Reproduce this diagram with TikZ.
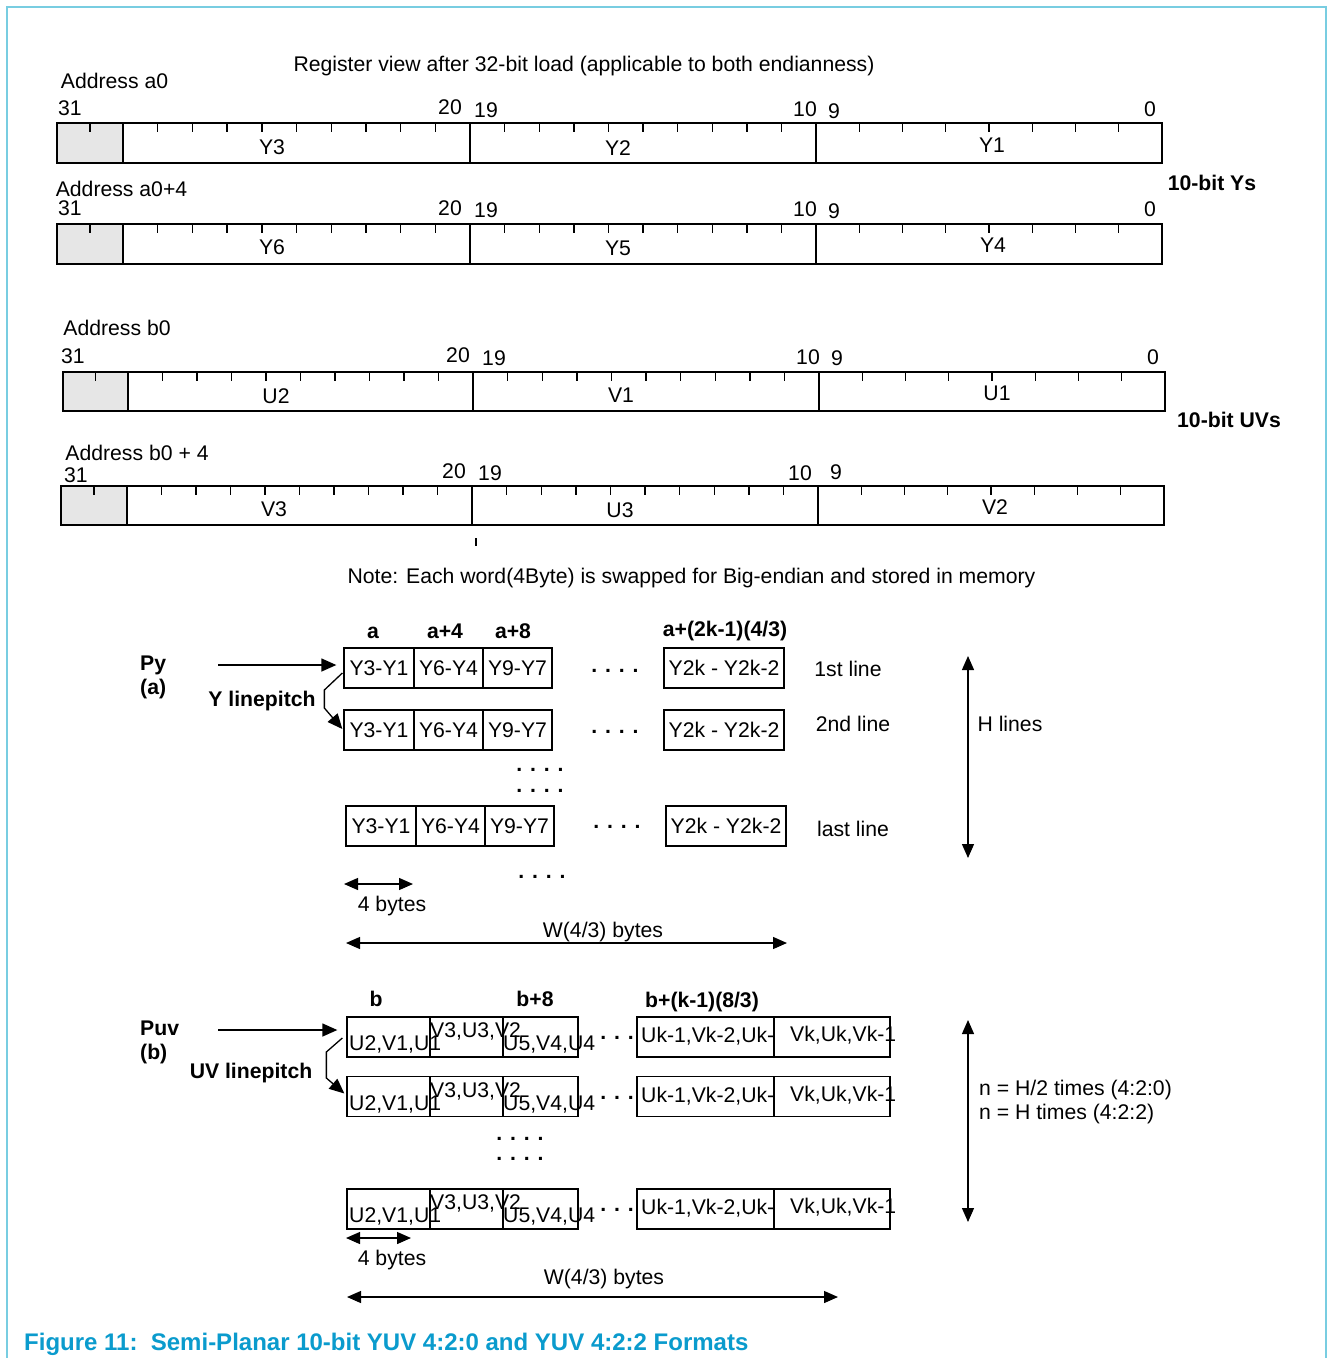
\documentclass[tikz,border=0pt]{standalone}
\usepackage{fontspec}
\setmainfont{Liberation Sans}
\usetikzlibrary{arrows.meta,calc}
\definecolor{framec}{RGB}{120,205,225}
\definecolor{capc}{RGB}{10,155,205}
\definecolor{grayc}{RGB}{230,230,230}
\tikzset{
 lbl/.style={inner sep=0pt, text height=15pt, text depth=0pt},
 bl/.style={lbl, font=\fontsize{21.2pt}{25pt}\selectfont\bfseries},
 dotsn/.style={inner sep=0pt, anchor=base, font=\fontsize{21.2pt}{25pt}\selectfont\bfseries},
 cell/.style={draw, line width=1.3pt, inner sep=0pt, minimum height=40pt, lbl},
 arr/.style={line width=1.3pt, -{Triangle[length=15pt,width=13pt]}},
 darr/.style={line width=1.3pt, {Triangle[length=14pt,width=12pt]}-{Triangle[length=14pt,width=12pt]}},
 reg/.style={line width=1.4pt},
}
\newcommand\regrow[7]{%
 \fill[grayc] (#3,#1) rectangle (#4,#2);
 \draw[reg] (#3,#1) rectangle (#4,#2);
 \draw[reg] (#4,#1) rectangle (#5,#2);
 \draw[reg] (#5,#1) rectangle (#6,#2);
 \draw[reg] (#6,#1) rectangle (#7,#2);
 \draw[reg] ({(#3+#4)/2},#1) -- ++(0,9);
 \foreach \i in {1,...,9}{\draw[reg] ({#4+\i*(#5-#4)/10},#1) -- ++(0,9);}
 \foreach \i in {1,...,9}{\draw[reg] ({#5+\i*(#6-#5)/10},#1) -- ++(0,9);}
 \foreach \i in {1,...,7}{\draw[reg] ({#6+\i*(#7-#6)/8},#1) -- ++(0,9);}
}
\begin{document}
\begin{tikzpicture}[x=1pt,y=-1pt,font=\fontsize{21.2pt}{25pt}\selectfont]
\useasboundingbox (0,0) rectangle (1327,1358);
\fill[white] (0,0) rectangle (1327,1358);
\draw[framec, line width=2pt] (7,1358) -- (7,7) -- (1326,7) -- (1326,1358);

% ---------- register view ----------
\node[lbl] (title) at (584,64) {Register view after 32-bit load (applicable to both endianness)};
\node[lbl] (addra0) at (114.5,81) {Address a0};
\regrow{123}{163}{57}{123}{470}{816}{1162}
\node[lbl] (r1n31) at (70,108) {31};
\node[lbl] (r1n20) at (450,107) {20};
\node[lbl] (r1n19) at (486,110) {19};
\node[lbl] (r1n10) at (805,109) {10};
\node[lbl] (r1n9) at (834,111) {9};
\node[lbl] (r1n0) at (1150,109) {0};
\node[lbl] (y3) at (272,147) {Y3};
\node[lbl] (y2) at (618,148) {Y2};
\node[lbl] (y1) at (992,145) {Y1};

\node[lbl] (addra4) at (121.5,189) {Address a0+4};
\node[bl] (ys) at (1212,183) {10-bit Ys};
\regrow{224}{264}{57}{123}{470}{816}{1162}
\node[lbl] (r2n31) at (70,208) {31};
\node[lbl] (r2n20) at (450,208) {20};
\node[lbl] (r2n19) at (486,210) {19};
\node[lbl] (r2n10) at (805,209) {10};
\node[lbl] (r2n9) at (834,211) {9};
\node[lbl] (r2n0) at (1150,209) {0};
\node[lbl] (y6) at (272,247) {Y6};
\node[lbl] (y5) at (618,248) {Y5};
\node[lbl] (y4) at (993,245) {Y4};

\node[lbl] (addrb0) at (117,328) {Address b0};
\regrow{372}{411}{63}{128}{473}{819}{1165}
\node[lbl] (r3n31) at (73,356) {31};
\node[lbl] (r3n20) at (458,355) {20};
\node[lbl] (r3n19) at (494,358) {19};
\node[lbl] (r3n10) at (808,357) {10};
\node[lbl] (r3n9) at (837,358) {9};
\node[lbl] (r3n0) at (1153,357) {0};
\node[lbl] (u2) at (276,396) {U2};
\node[lbl] (v1) at (621,395) {V1};
\node[lbl] (u1) at (997,393) {U1};
\node[bl] (uvs) at (1229,420) {10-bit UVs};

\node[lbl] (addrb4) at (137,453) {Address b0 + 4};
\regrow{486}{525}{61}{127}{472}{818}{1164}
\node[lbl] (r4n31) at (76,475) {31};
\node[lbl] (r4n20) at (454,471) {20};
\node[lbl] (r4n19) at (490,473) {19};
\node[lbl] (r4n10) at (800,473) {10};
\node[lbl] (r4n9) at (836,472) {9};
\node[lbl] (v3) at (274,509) {V3};
\node[lbl] (u3) at (620,510) {U3};
\node[lbl] (v2) at (995,507) {V2};
\draw[reg] (476,538) -- (476,546);

\node[lbl] (note) at (691.5,576) {Note: Each word(4Byte) is swapped for Big-endian and stored in memory};

% ---------- Py section ----------
\node[bl] (ha) at (373,631) {a};
\node[bl] (ha4) at (445,631) {a+4};
\node[bl] (ha8) at (513,631) {a+8};
\node[bl] (hak) at (725,629) {a+(2k-1)(4/3)};
\node[bl, anchor=west] (py) at (140,663) {Py};
\node[bl, anchor=west] (pya) at (140,687) {(a)};
\node[bl] (ylp) at (262,699) {Y linepitch};

\node[cell, minimum width=70pt] (a1) at (379,668) {Y3-Y1};
\node[cell, minimum width=69pt] (a2) at (448.5,668) {Y6-Y4};
\node[cell, minimum width=69pt] (a3) at (517.5,668) {Y9-Y7};
\node[cell, minimum width=120pt] (ak) at (724,668) {Y2k - Y2k-2};
\node[dotsn] (ad1) at (615,672) {. . . .};
\node[lbl] (l1) at (848,669) {1st line};

\node[cell, minimum width=70pt] (b1) at (379,730) {Y3-Y1};
\node[cell, minimum width=69pt] (b2) at (448.5,730) {Y6-Y4};
\node[cell, minimum width=69pt] (b3) at (517.5,730) {Y9-Y7};
\node[cell, minimum width=120pt] (bk) at (724,730) {Y2k - Y2k-2};
\node[dotsn] (ad2) at (615,733) {. . . .};
\node[lbl] (l2) at (853,724) {2nd line};

\node[dotsn] (ad3) at (540,771) {. . . .};
\node[dotsn] (ad4) at (540,792) {. . . .};

\node[cell, minimum width=70pt] (c1) at (381,826) {Y3-Y1};
\node[cell, minimum width=69pt] (c2) at (450.5,826) {Y6-Y4};
\node[cell, minimum width=69pt] (c3) at (519.5,826) {Y9-Y7};
\node[cell, minimum width=120pt] (ck) at (726,826) {Y2k - Y2k-2};
\node[dotsn] (ad5) at (617,828) {. . . .};
\node[lbl] (l3) at (853,829) {last line};
\node[dotsn] (ad6) at (542,878) {. . . .};

\coordinate (pystart) at (218,665);
\draw[arr] (pystart) -- ($(pystart -| a1.west)+(-7,0)$);
\draw[arr] ($(a1.west)+(-1,5)$) -- ++(-18,17) -- ++(0,18) -- ($(b1.west)+(-1,-1)$);

\coordinate (fb1) at (344,884);
\coordinate (fb2) at (413,884);
\draw[darr] (fb1) -- (fb2);
\node[lbl] (fb) at (392,904) {4 bytes};
\coordinate (wa1) at (346,943);
\coordinate (wa2) at (787,943);
\draw[darr] (wa1) -- (wa2);
\node[lbl] (wa) at (603,930) {W(4/3) bytes};
\coordinate (ha1) at (968,656);
\coordinate (ha2) at (968,858);
\draw[darr] (ha1) -- (ha2);
\node[lbl] (hl) at (1010,724) {H lines};

% ---------- Puv section ----------
\node[bl] (hb) at (376,999) {b};
\node[bl] (hb8) at (535,999) {b+8};
\node[bl] (hbk) at (702,1000) {b+(k-1)(8/3)};
\node[bl, anchor=west] (puv) at (140,1028) {Puv};
\node[bl, anchor=west] (puvb) at (140,1052) {(b)};
\node[bl] (uvlp) at (251,1071) {UV linepitch};

\foreach \r/\yc/\yo in {p/1037/0, q/1096.5/60, s/1209/172}{
 \node[cell, minimum width=83pt] (\r1) at (388.5,\yc) {};
 \node[cell, minimum width=73pt] (\r2) at (466.5,\yc) {};
 \node[cell, minimum width=75pt] (\r3) at (540.5,\yc) {};
 \node[cell, minimum width=137pt] (\r4) at (705.5,\yc) {};
 \node[cell, minimum width=116pt] (\r5) at (832,\yc) {};
 \node[lbl, anchor=west] (\r t1) at (349,1043+\yo) {U2,V1,U1};
 \node[lbl, anchor=west] (\r t2) at (430,1030+\yo) {V3,U3,V2};
 \node[lbl, anchor=west] (\r t3) at (503,1043+\yo) {U5,V4,U4};
 \node[lbl, anchor=west] (\r t4) at (641,1035+\yo) {Uk-1,Vk-2,Uk-};
 \node[lbl, anchor=west] (\r t5) at (790,1034+\yo) {Vk,Uk,Vk-1};
 \node[dotsn] (\r dd) at (617,1039+\yo) {. . .};
}
\node[dotsn] (bd1) at (520,1140) {. . . .};
\node[dotsn] (bd2) at (520,1160) {. . . .};

\coordinate (puvstart) at (218,1030);
\draw[arr] (puvstart) -- ($(puvstart -| p1.west)+(-9,0)$);
\draw[arr] ($(p1.west)+(-4,1)$) -- ++(-16,14) -- ++(0,26) -- ($(q1.west)+(-2,-3)$);

\coordinate (gb1) at (346,1238);
\coordinate (gb2) at (411,1238);
\draw[darr] (gb1) -- (gb2);
\node[lbl] (gb) at (392,1258) {4 bytes};
\coordinate (wb1) at (347,1297);
\coordinate (wb2) at (838,1297);
\draw[darr] (wb1) -- (wb2);
\node[lbl] (wb) at (604,1277) {W(4/3) bytes};
\coordinate (nb1) at (968,1020);
\coordinate (nb2) at (968,1222);
\draw[darr] (nb1) -- (nb2);
\node[lbl, anchor=west] (n1) at (979,1088) {n = H/2 times (4:2:0)};
\node[lbl, anchor=west] (n2) at (979,1112) {n = H times (4:2:2)};

% ---------- caption ----------
\node[inner sep=0pt, anchor=west, text height=17pt, text depth=0pt, text=capc,
 font=\fontsize{24pt}{28pt}\selectfont\bfseries] (cap) at (24,1342)
 {Figure 11:\ \ Semi-Planar 10-bit YUV 4:2:0 and YUV 4:2:2 Formats};
\end{tikzpicture}
\end{document}
